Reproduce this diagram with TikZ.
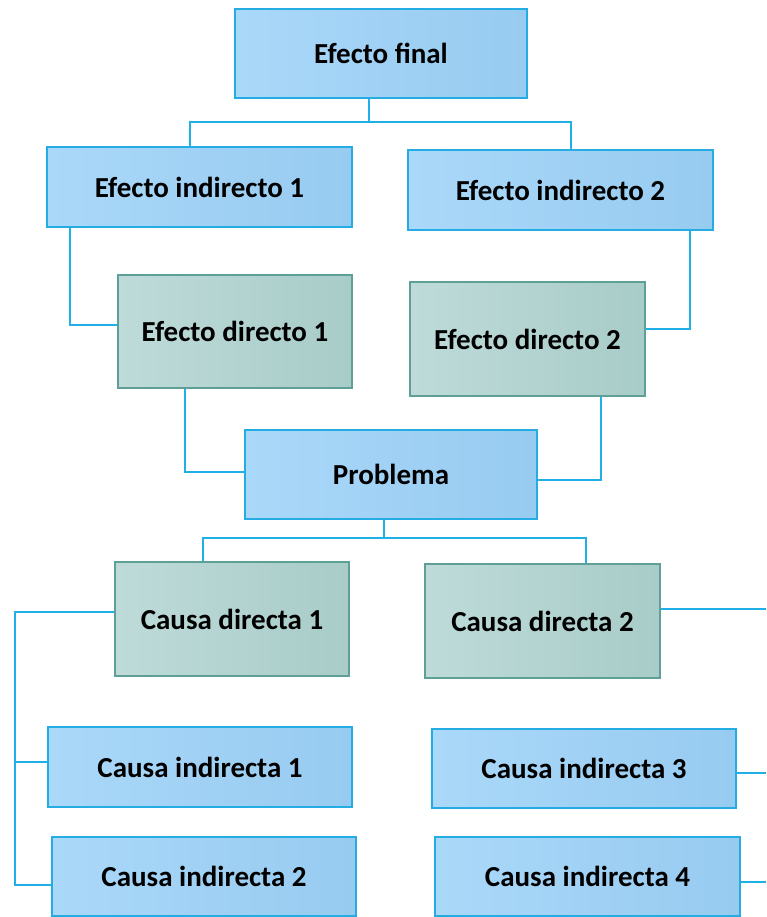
\documentclass[tikz,border=0pt]{standalone}
\usepackage{fontspec}
\setmainfont{Carlito}
\definecolor{bfillL}{HTML}{AAD8F9}
\definecolor{bfillR}{HTML}{97CBF0}
\definecolor{bdraw}{HTML}{25ACE3}
\definecolor{gfillL}{HTML}{BEDBD9}
\definecolor{gfillR}{HTML}{A8CCC8}
\definecolor{gdraw}{HTML}{5E9F97}
\definecolor{conncol}{HTML}{1EB0E6}
\begin{document}
\begin{tikzpicture}[x=1pt,y=-1pt,
  bluebox/.style={draw=bdraw,line width=2.2pt,left color=bfillL,right color=bfillR,
    inner sep=0pt,font=\fontsize{29}{34}\selectfont\bfseries},
  greenbox/.style={draw=gdraw,line width=2.2pt,left color=gfillL,right color=gfillR,
    inner sep=0pt,font=\fontsize{29}{34}\selectfont\bfseries},
  conn/.style={draw=conncol,line width=2.8pt}]
\useasboundingbox (0,0) rectangle (766,917);
\node[bluebox,minimum width=292pt,minimum height=89pt] (ef) at (381,53.5) {Efecto final};
\node[bluebox,minimum width=305pt,minimum height=80pt] (ei1) at (199.5,187) {Efecto indirecto 1};
\node[bluebox,minimum width=305pt,minimum height=80pt] (ei2) at (560.5,190) {Efecto indirecto 2};
\node[greenbox,minimum width=234pt,minimum height=113pt] (ed1) at (235,331.5) {Efecto directo 1};
\node[greenbox,minimum width=235pt,minimum height=114pt] (ed2) at (527.5,339) {Efecto directo 2};
\node[bluebox,minimum width=292pt,minimum height=89pt] (pb) at (391,474.5) {Problema};
\node[greenbox,minimum width=234pt,minimum height=114pt] (cd1) at (232,619) {Causa directa 1};
\node[greenbox,minimum width=235pt,minimum height=114pt] (cd2) at (542.5,621) {Causa directa 2};
\node[bluebox,minimum width=304pt,minimum height=80pt] (ci1) at (200,767) {Causa indirecta 1};
\node[bluebox,minimum width=304pt,minimum height=79pt] (ci3) at (584,768.5) {Causa indirecta 3};
\node[bluebox,minimum width=304pt,minimum height=79pt] (ci2) at (204,876.5) {Causa indirecta 2};
\node[bluebox,minimum width=305pt,minimum height=79pt] (ci4) at (587.5,876.5) {Causa indirecta 4};
% junction coordinates
\coordinate (a1) at (369,122);
\coordinate (x1) at (190,122);
\coordinate (x2) at (571,122);
\coordinate (b1) at (70,325);
\coordinate (b2) at (690,329);
\coordinate (b3) at (185,472);
\coordinate (b4) at (601,480);
\coordinate (a2) at (384,538);
\coordinate (x3) at (203,538);
\coordinate (x4) at (586,538);
\coordinate (c1) at (15,612);
\coordinate (c3) at (15,762);
\coordinate (c2) at (15,885);
\coordinate (r1) at (766,609);
\coordinate (r2) at (766,773);
\coordinate (r3) at (766,882);
% connectors
\draw[conn] (a1|-ef.south) -- (a1);
\draw[conn] (x1|-ei1.north) -- (x1) -- (x2) -- (x2|-ei2.north);
\draw[conn] (b1|-ei1.south) -- (b1) -- (b1-|ed1.west);
\draw[conn] (b2|-ei2.south) -- (b2) -- (b2-|ed2.east);
\draw[conn] (b3|-ed1.south) -- (b3) -- (b3-|pb.west);
\draw[conn] (b4|-ed2.south) -- (b4) -- (b4-|pb.east);
\draw[conn] (a2|-pb.south) -- (a2);
\draw[conn] (x3|-cd1.north) -- (x3) -- (x4) -- (x4|-cd2.north);
\draw[conn] (c1-|cd1.west) -- (c1) -- (c2) -- (c2-|ci2.west);
\draw[conn] (c3) -- (c3-|ci1.west);
\draw[conn] (r1-|cd2.east) -- (r1);
\draw[conn] (r2-|ci3.east) -- (r2);
\draw[conn] (r3-|ci4.east) -- (r3);
\end{tikzpicture}
\end{document}
